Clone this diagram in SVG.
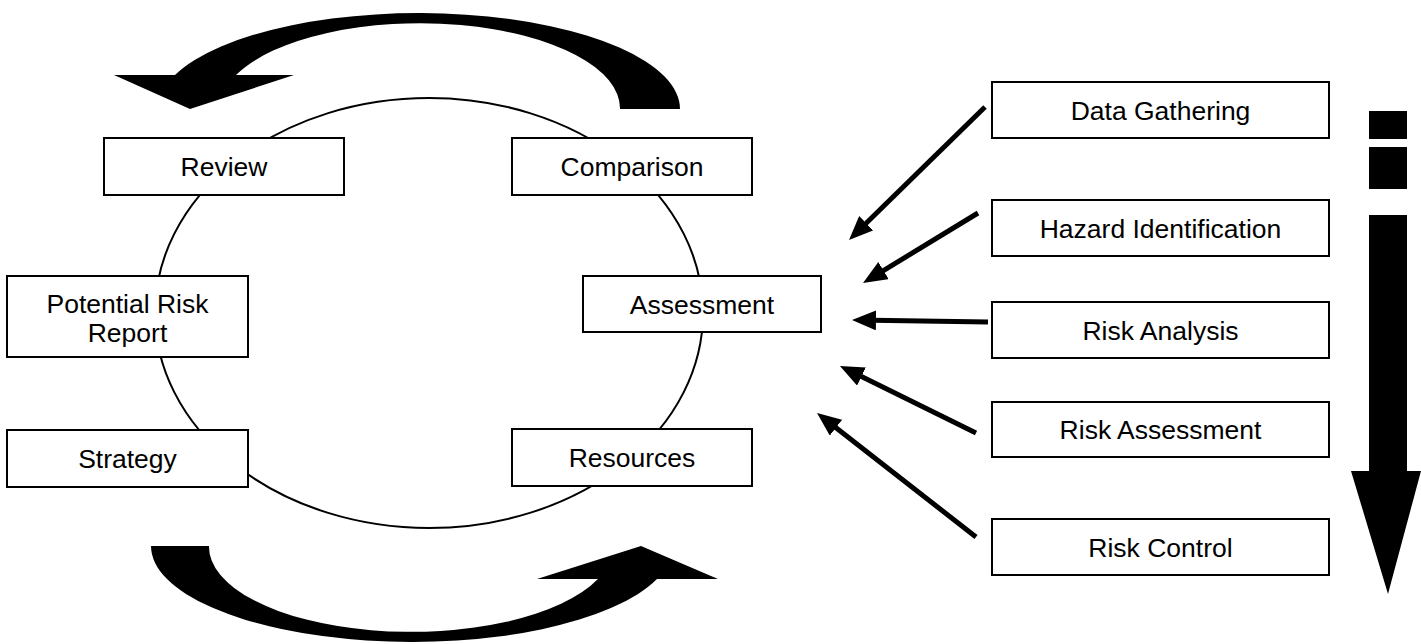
<svg xmlns="http://www.w3.org/2000/svg" width="1421" height="644" viewBox="0 0 1421 644">
<style>
.box{fill:#fff;stroke:#000;stroke-width:2}
.t{font-family:"Liberation Sans",Arial,sans-serif;font-size:26.5px;fill:#000;text-anchor:middle}
.conn{stroke:#000;stroke-width:5;fill:none;marker-end:url(#ah)}
.big{fill:#000;stroke:none}
</style>
<defs>
<marker id="ah" markerUnits="userSpaceOnUse" viewBox="0 0 24 20" markerWidth="24" markerHeight="20" refX="4" refY="10" orient="auto">
<path d="M0,0 L24,10 L0,20 Z" fill="#000"/>
</marker>
</defs>
<rect width="1421" height="644" fill="#fff"/>
<g id="cycle">
<ellipse cx="429" cy="313" rx="274" ry="215" fill="none" stroke="#000" stroke-width="2"/>
<path class="big" d="M114 75 L175 75 A261 96 0 0 1 680 109 L620 109 A200 85 0 0 0 236 75 L294 75 L190 109 Z"/>
<path class="big" d="M151 546 L209 546 A202 85 0 0 0 598 579 L537 579 L641 546 L718 579 L657 579 A261 96 0 0 1 151 546 Z"/>
</g>
<g id="review"><rect class="box" x="104" y="138" width="240" height="57"/><text class="t" x="224" y="176">Review</text></g>
<g id="comparison"><rect class="box" x="512" y="138" width="240" height="57"/><text class="t" x="632" y="176">Comparison</text></g>
<g id="potential-risk-report"><rect class="box" x="7" y="276" width="241" height="81"/><text class="t" x="127.5" y="312.5">Potential Risk</text><text class="t" x="127.5" y="341.5">Report</text></g>
<g id="assessment"><rect class="box" x="583" y="276" width="238" height="56"/><text class="t" x="702" y="313.5">Assessment</text></g>
<g id="strategy"><rect class="box" x="7" y="430" width="241" height="57"/><text class="t" x="127.5" y="468">Strategy</text></g>
<g id="resources"><rect class="box" x="512" y="429" width="240" height="57"/><text class="t" x="632" y="467">Resources</text></g>
<g id="data-gathering"><rect class="box" x="992" y="82" width="337" height="56"/><text class="t" x="1160.5" y="119.5">Data Gathering</text></g>
<g id="hazard-identification"><rect class="box" x="992" y="200" width="337" height="56"/><text class="t" x="1160.5" y="237.5">Hazard Identification</text></g>
<g id="risk-analysis"><rect class="box" x="992" y="302" width="337" height="56"/><text class="t" x="1160.5" y="339.5">Risk Analysis</text></g>
<g id="risk-assessment"><rect class="box" x="992" y="402" width="337" height="55"/><text class="t" x="1160.5" y="439">Risk Assessment</text></g>
<g id="risk-control"><rect class="box" x="992" y="519" width="337" height="56"/><text class="t" x="1160.5" y="556.5">Risk Control</text></g>
<g id="connectors">
<line class="conn" x1="985" y1="107" x2="863.3" y2="226"/>
<line class="conn" x1="978" y1="213" x2="880.1" y2="272.6"/>
<line class="conn" x1="988" y1="322" x2="872" y2="320.3"/>
<line class="conn" x1="976" y1="433" x2="857.9" y2="374.8"/>
<line class="conn" x1="976" y1="537" x2="832.8" y2="425.3"/>
</g>
<g id="progress-arrow">
<rect class="big" x="1369" y="111" width="38" height="28"/>
<rect class="big" x="1369" y="147" width="38" height="42"/>
<path class="big" d="M1369 215 L1407 215 L1407 471 L1421 471 L1388 594 L1351 471 L1369 471 Z"/>
</g>
</svg>
